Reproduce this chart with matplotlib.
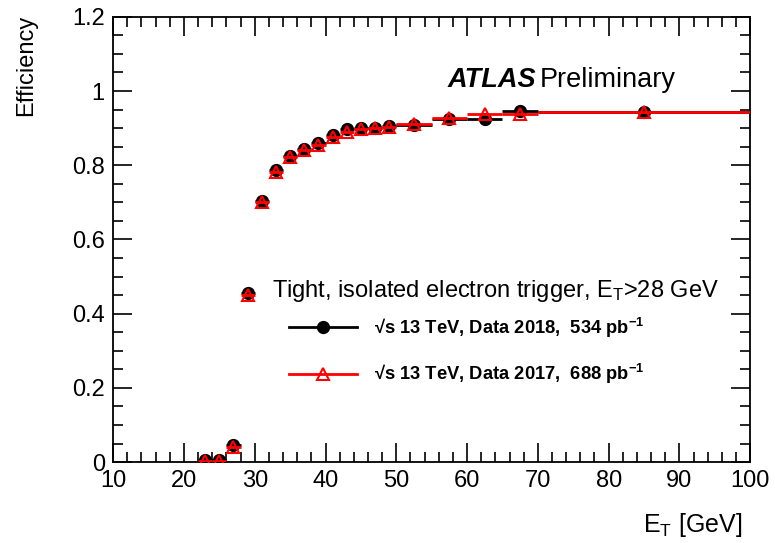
import matplotlib
matplotlib.use("Agg")
import matplotlib.pyplot as plt
import numpy as np
from matplotlib.lines import Line2D
from matplotlib.ticker import MultipleLocator

plt.rcParams['font.family'] = ['Liberation Sans', 'DejaVu Sans']
plt.rcParams['mathtext.fontset'] = 'custom'
plt.rcParams['mathtext.rm'] = 'Liberation Sans'
plt.rcParams['mathtext.it'] = 'Liberation Sans:italic'
plt.rcParams['mathtext.bf'] = 'Liberation Sans:bold'

# bin edges in E_T [GeV]
edges = [22, 24, 26, 28, 30, 32, 34, 36, 38, 40, 42, 44, 46, 48, 50, 55, 60, 65, 70, 100]

eff_2018 = [0.005, 0.005, 0.046, 0.455, 0.703, 0.787, 0.826, 0.845, 0.860, 0.881,
            0.898, 0.901, 0.901, 0.906, 0.908, 0.925, 0.926, 0.946, 0.944]
eff_2017 = [0.003, 0.003, 0.040, 0.450, 0.700, 0.782, 0.822, 0.842, 0.855, 0.875,
            0.890, 0.898, 0.900, 0.904, 0.910, 0.927, 0.938, 0.939, 0.944]

label_2018 = "\u221as 13 TeV, Data 2018,  534 pb$^{\\mathbf{-1}}$"
label_2017 = "\u221as 13 TeV, Data 2017,  688 pb$^{\\mathbf{-1}}$"

e = np.array(edges, dtype=float)
xc = 0.5 * (e[1:] + e[:-1])
xw = 0.5 * (e[1:] - e[:-1])

fig = plt.figure(figsize=(7.75, 5.43), dpi=100)
ax = fig.add_axes([0.146, 0.149, 0.822, 0.82])

ax.errorbar(xc, eff_2018, xerr=xw, fmt='o', color='black', ms=8.5,
            elinewidth=2, capsize=0, zorder=3)
ax.errorbar(xc, eff_2017, xerr=xw, fmt='^', color='red', mfc='none', mec='red',
            ms=9, mew=1.5, elinewidth=2, capsize=0, zorder=4)

ax.set_xlim(10, 100)
ax.set_ylim(0, 1.2)
ax.xaxis.set_major_locator(MultipleLocator(10))
ax.xaxis.set_minor_locator(MultipleLocator(2))
ax.yaxis.set_major_locator(MultipleLocator(0.2))
ax.yaxis.set_minor_locator(MultipleLocator(0.05))
ax.set_yticks([0, 0.2, 0.4, 0.6, 0.8, 1.0, 1.2])
ax.set_yticklabels(['0', '0.2', '0.4', '0.6', '0.8', '1', '1.2'])
ax.tick_params(which='both', direction='in', top=True, right=True, labelsize=17, width=1.2)
ax.tick_params(which='major', length=14, pad=6)
ax.tick_params(which='minor', length=7)
for s in ax.spines.values():
    s.set_linewidth(1.3)

ax.set_ylabel('Efficiency', fontsize=17, loc='top')
ax.yaxis.set_label_coords(-0.12, 1.005)
ax.set_xlabel(r'E$_\mathrm{T}$ [GeV]', fontsize=18, loc='right')
ax.xaxis.set_label_coords(0.987, -0.11)

ax.text(57.2, 1.03, 'ATLAS', fontsize=19.5, fontweight='bold', style='italic', va='center')
ax.text(70.2, 1.03, 'Preliminary', fontsize=19.5, va='center')

ax.text(32.5, 0.46, r'Tight, isolated electron trigger, E$_\mathrm{T}$>28 GeV',
        fontsize=17, va='center')

handles = [
    Line2D([], [], color='black', marker='o', ms=8.5, lw=2),
    Line2D([], [], color='red', marker='^', mfc='none', mec='red', ms=9, mew=1.5, lw=2),
]
leg = ax.legend(handles, [label_2018, label_2017], loc='upper left',
                bbox_to_anchor=(0.25, 0.366), frameon=False,
                prop={'weight': 'bold', 'size': 13.2}, handlelength=3.7,
                handletextpad=0.95, labelspacing=1.22)

fig.savefig('out.png', dpi=100)
